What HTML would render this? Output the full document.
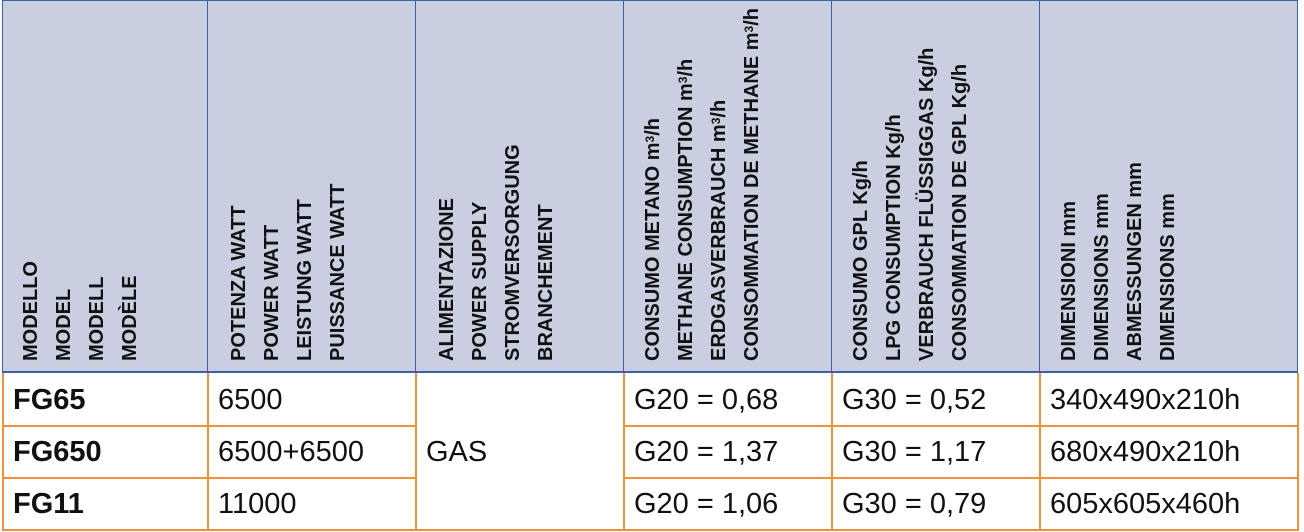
<!DOCTYPE html>
<html><head><meta charset="utf-8"><style>
body{margin:0;width:1304px;height:532px;background:#fff;overflow:hidden;font-family:"Liberation Sans",Arial,sans-serif;position:relative}
.hdr{position:absolute;left:2px;top:0;width:1296px;height:373px;background:#c9cee1;border:1.5px solid #3d62a3;border-bottom:2px solid #3d62a3;box-sizing:border-box}
.vl{position:absolute;top:0;height:373px;width:0;border-left:1.5px solid #3d62a3}
.ov{position:absolute;width:0;border-left:2px solid #f0913a}
.oh{position:absolute;height:0;border-top:2px solid #f0913a}
.lab{position:absolute;top:361px;transform:rotate(-90deg);transform-origin:0 0;font-weight:bold;font-size:20px;line-height:17px;white-space:nowrap;color:#111}
.c{position:absolute;font-size:29px;line-height:29px;white-space:nowrap;color:#111}
.b{font-weight:bold}
sup{font-size:12px;vertical-align:top;line-height:10px}
</style></head><body>
<div class="hdr"></div>
<div class="vl" style="left:207px"></div><div class="vl" style="left:415px"></div><div class="vl" style="left:623px"></div><div class="vl" style="left:831px"></div><div class="vl" style="left:1039px"></div>
<div class="ov" style="left:2px;top:373px;height:157px"></div>
<div class="ov" style="left:207px;top:373px;height:157px"></div>
<div class="ov" style="left:415px;top:373px;height:157px"></div>
<div class="ov" style="left:623px;top:373px;height:157px"></div>
<div class="ov" style="left:831px;top:373px;height:157px"></div>
<div class="ov" style="left:1039px;top:373px;height:157px"></div>
<div class="ov" style="left:1297px;top:373px;height:157px"></div>
<div class="oh" style="left:2px;top:425px;width:414px"></div>
<div class="oh" style="left:623px;top:425px;width:676px"></div>
<div class="oh" style="left:2px;top:477px;width:414px"></div>
<div class="oh" style="left:623px;top:477px;width:676px"></div>
<div class="oh" style="left:2px;top:529px;width:1297px"></div>

<div>
<div class="lab" style="left:23px">MODELLO</div><div class="lab" style="left:56px">MODEL</div><div class="lab" style="left:89px">MODELL</div><div class="lab" style="left:122px">MODÈLE</div></div>
<div>
<div class="lab" style="left:231px">POTENZA WATT</div><div class="lab" style="left:264px">POWER WATT</div><div class="lab" style="left:297px">LEISTUNG WATT</div><div class="lab" style="left:330px">PUISSANCE WATT</div></div>
<div>
<div class="lab" style="left:439px">ALIMENTAZIONE</div><div class="lab" style="left:472px">POWER SUPPLY</div><div class="lab" style="left:505px">STROMVERSORGUNG</div><div class="lab" style="left:538px">BRANCHEMENT</div></div>
<div>
<div class="lab" style="left:645px">CONSUMO METANO m<sup>3</sup>/h</div><div class="lab" style="left:678px">METHANE CONSUMPTION m<sup>3</sup>/h</div><div class="lab" style="left:711px">ERDGASVERBRAUCH m<sup>3</sup>/h</div><div class="lab" style="left:744px">CONSOMMATION DE METHANE m<sup>3</sup>/h</div></div>
<div>
<div class="lab" style="left:853px">CONSUMO GPL Kg/h</div><div class="lab" style="left:886px">LPG CONSUMPTION Kg/h</div><div class="lab" style="left:919px">VERBRAUCH FLÜSSIGGAS Kg/h</div><div class="lab" style="left:952px">CONSOMMATION DE GPL Kg/h</div></div>
<div>
<div class="lab" style="left:1061px">DIMENSIONI mm</div><div class="lab" style="left:1094px">DIMENSIONS mm</div><div class="lab" style="left:1127px">ABMESSUNGEN mm</div><div class="lab" style="left:1160px">DIMENSIONS mm</div></div>

<div class="c b" style="left:13px;top:386px">FG65</div>
<div class="c b" style="left:13px;top:438px">FG650</div>
<div class="c b" style="left:13px;top:490px">FG11</div>
<div class="c" style="left:218px;top:386px">6500</div>
<div class="c" style="left:218px;top:438px">6500+6500</div>
<div class="c" style="left:218px;top:490px">11000</div>
<div class="c" style="left:426px;top:438px">GAS</div>
<div class="c" style="left:634px;top:386px">G20 = 0,68</div>
<div class="c" style="left:634px;top:438px">G20 = 1,37</div>
<div class="c" style="left:634px;top:490px">G20 = 1,06</div>
<div class="c" style="left:842px;top:386px">G30 = 0,52</div>
<div class="c" style="left:842px;top:438px">G30 = 1,17</div>
<div class="c" style="left:842px;top:490px">G30 = 0,79</div>
<div class="c" style="left:1050px;top:386px">340x490x210h</div>
<div class="c" style="left:1050px;top:438px">680x490x210h</div>
<div class="c" style="left:1050px;top:490px">605x605x460h</div>
</body></html>
